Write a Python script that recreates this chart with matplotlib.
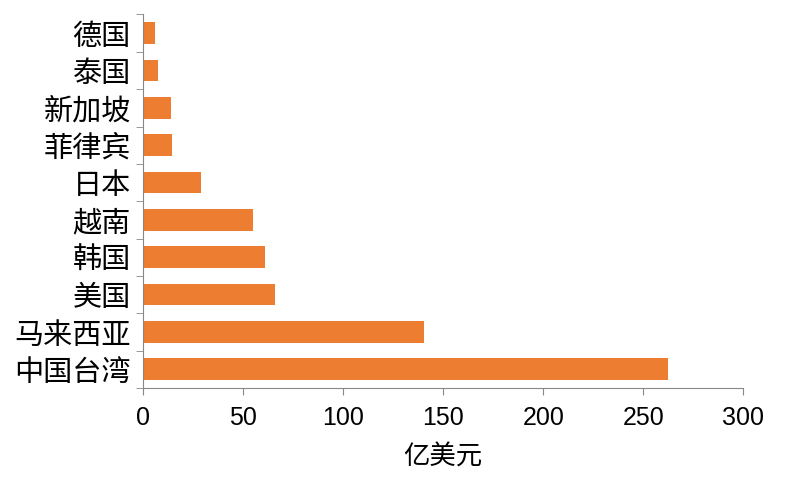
import matplotlib
matplotlib.use("Agg")
import matplotlib.pyplot as plt
import numpy as np

plt.rcParams['font.family'] = ['Noto Sans CJK SC', 'DejaVu Sans']

categories = ["中国台湾", "马来西亚", "美国", "韩国", "越南", "日本", "菲律宾", "新加坡", "泰国", "德国"]
values = [262.5, 140.5, 66, 61, 55, 29, 14.5, 14, 7.5, 6]

fig = plt.figure(figsize=(8, 4.82), dpi=100)
ax = fig.add_axes([0.179, 0.195, 0.75, 0.775])
y = np.arange(len(categories))
ax.barh(y, values, height=0.58, color='#ED7D31')
ax.set_xlim(0, 300)
ax.set_ylim(-0.5, len(categories) - 0.5)
ax.set_xticks(range(0, 301, 50))
ax.set_xticklabels([str(v) for v in range(0, 301, 50)], family=['Liberation Sans'])
ax.set_yticks(y)
ax.set_yticklabels(categories, fontsize=21)
ax.tick_params(axis='y', length=0, pad=9)
ax.set_yticks(np.arange(-0.5, len(categories), 1), minor=True)
ax.tick_params(axis='y', which='minor', length=5, color='#888888')
ax.tick_params(axis='x', labelsize=18, length=5, color='#888888', direction='out', pad=8)
for s in ['top', 'right']:
    ax.spines[s].set_visible(False)
for s in ['left', 'bottom']:
    ax.spines[s].set_color('#888888')
ax.set_xlabel("亿美元", fontsize=19, labelpad=10)
fig.savefig("out.png", dpi=100)
